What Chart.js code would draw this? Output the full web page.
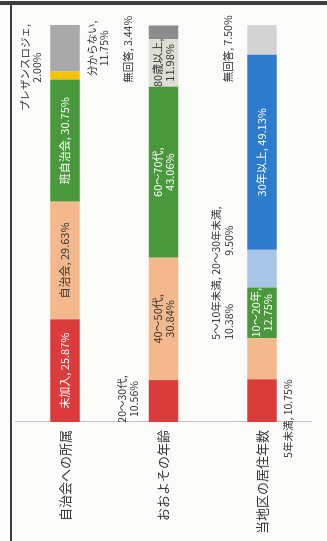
<!DOCTYPE html>
<html lang="ja">
<head>
<meta charset="utf-8">
<script src="https://cdn.jsdelivr.net/npm/chart.js@4/dist/chart.umd.min.js"></script>
<style>
  html, body { margin: 0; padding: 0; background: #fbfbf9; }
  body { width: 327px; height: 541px; position: relative; overflow: hidden; }
  #frameTop { position: absolute; left: 0; top: 1px; width: 327px; height: 0; border-top: 4px solid #3c3c3c; }
  #frameLeft { position: absolute; left: 10px; top: 5px; width: 0; height: 536px; border-left: 2px solid #3c3c3c; }
  /* chart is laid out sideways and turned a quarter turn */
  #wrap { position: absolute; left: 0; top: 0; width: 541px; height: 327px;
          transform-origin: 0 0; transform: translateY(541px) rotate(-90deg); }
</style>
</head>
<body>
<div id="frameTop"></div>
<div id="frameLeft"></div>
<div id="wrap"><canvas id="myChart" width="541" height="327"></canvas></div>
<script>
const categories = ['自治会への所属', 'おおよその年齢', '当地区の居住年数'];

const membershipNames = ['未加入', '自治会', '班自治会', 'プレザンスロジェ', '分からない'];
const membershipValues = [25.87, 29.63, 30.75, 2.00, 11.75];

const ageNames = ['20～30代', '40～50代', '60～70代', '80歳以上', '無回答'];
const ageValues = [10.56, 30.84, 43.06, 11.98, 3.44];

const yearsNames = ['5年未満', '5～10年未満', '10～20年', '20～30年未満', '30年以上', '無回答'];
const yearsValues = [10.75, 10.38, 12.75, 9.50, 49.13, 7.50];

const membershipColors = ['#dc3b3b', '#f3b98c', '#4a983c', '#f5c400', '#a9a9a9'];
const ageColors = ['#dc3b3b', '#f3b98c', '#4a983c', '#dcdfd2', '#8c8c8c'];
const yearsColors = ['#dc3b3b', '#f3b98c', '#4a983c', '#a8c4e6', '#2f7bcb', '#d3d3d3'];

// label placement: no dx/dy = inside the segment, otherwise offset from segment centre
const membershipPlace = [
    {ink: '#fff'},
    {ink: '#333'},
    {ink: '#fff'},
    {wrap: true, dx: 8, dy: -40.5, ink: '#333'},
    {wrap: true, dx: 0, dy: 26.5, ink: '#333'}
];
const agePlace = [
    {wrap: true, dx: 2, dy: -41.5, ink: '#333'},
    {wrap: true, ink: '#333'},
    {wrap: true, ink: '#fff'},
    {wrap: true, ink: '#333'},
    {dx: -17, dy: -35, ink: '#333'}
];
const yearsPlace = [
    {dx: -18, dy: 26.5, ink: '#333'},
    {wrap: true, dx: 19, dy: -45.5, align: 'left', ink: '#333'},
    {wrap: true, ink: '#fff'},
    {wrap: true, dx: 28, dy: -45.5, ink: '#333'},
    {ink: '#fff'},
    {dx: -9, dy: -33.5, ink: '#333'}
];

const groups = [
    {names: membershipNames, values: membershipValues, colors: membershipColors, place: membershipPlace},
    {names: ageNames, values: ageValues, colors: ageColors, place: agePlace},
    {names: yearsNames, values: yearsValues, colors: yearsColors, place: yearsPlace}
];

// one dataset per stack level, one bar per category
const levels = Math.max(...groups.map(g => g.values.length));
const datasets = [];
for (let i = 0; i < levels; i++) {
    datasets.push({
        label: 'level' + i,
        data: groups.map(g => g.values[i] || 0),
        backgroundColor: groups.map(g => g.colors[i] || 'transparent'),
        borderWidth: 0,
        barPercentage: 0.3,
        categoryPercentage: 1
    });
}

const segLabels = {
    id: 'segLabels',
    afterDatasetsDraw(chart) {
        const ctx = chart.ctx;
        ctx.save();
        ctx.textBaseline = 'middle';
        chart.data.datasets.forEach((ds, i) => {
            chart.getDatasetMeta(i).data.forEach((bar, j) => {
                const g = groups[j];
                if (i >= g.values.length) return;
                const v = g.values[i];
                const p = g.place[i];
                const pct = v.toFixed(2) + '%';
                const lines = p.wrap ? [g.names[i] + ',', pct] : [g.names[i] + ', ' + pct];
                const cx = (bar.base + bar.x) / 2;
                const inside = p.dx === undefined;
                const lh = inside ? 12 : 12.5;
                ctx.font = (inside ? 11 : 10.5) + 'px "Noto Sans CJK JP"';
                let x, y;
                if (inside) {
                    x = cx;
                    y = bar.y - (lines.length - 1) * lh / 2;
                } else {
                    x = cx + p.dx;
                    y = bar.y + p.dy;
                }
                ctx.fillStyle = p.ink;
                ctx.textAlign = p.align || 'center';
                lines.forEach((t, k) => ctx.fillText(t, x, y + k * lh));
            });
        });
        ctx.restore();
    }
};

let myChart = new Chart('myChart', {
    type: 'bar',
    data: {
        labels: categories,
        datasets: datasets
    },
    options: {
        indexAxis: 'y',
        responsive: false,
        animation: false,
        layout: {padding: {left: 0, right: 25, top: 14, bottom: 4}},
        plugins: {
            legend: {display: false},
            tooltip: {enabled: false}
        },
        scales: {
            x: {stacked: true, min: 0, max: 100, display: false},
            y: {
                stacked: true,
                grid: {display: true, drawOnChartArea: false, drawTicks: false},
                border: {display: true, color: '#c4c4c4', dash: [3, 3], width: 1},
                ticks: {
                    color: '#3a3a3a',
                    padding: 8,
                    font: {family: '"Noto Sans CJK JP"', size: 13}
                },
                afterFit(scale) { scale.width = 119; }
            }
        }
    },
    plugins: [segLabels]
});
</script>
</body>
</html>
